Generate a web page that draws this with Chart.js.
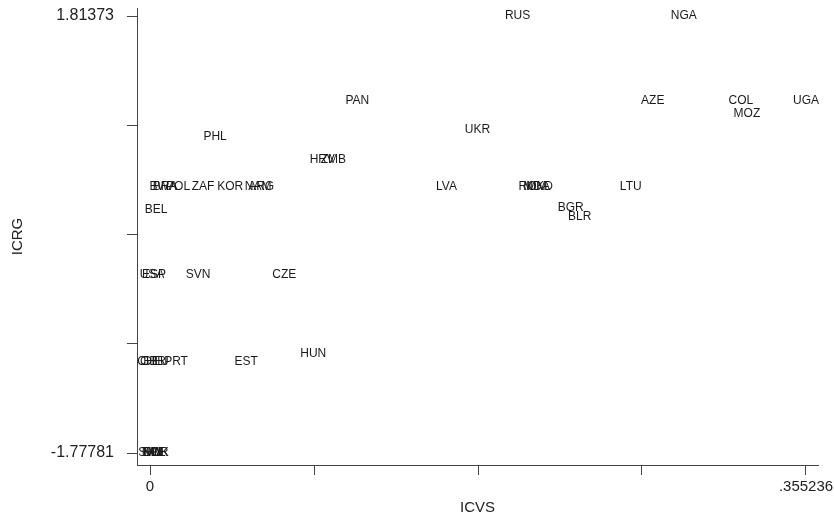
<!DOCTYPE html>
<html>
<head>
<meta charset="utf-8">
<script src="https://cdn.jsdelivr.net/npm/chart.js@4"></script>
<style>
html,body{margin:0;padding:0;background:#fff;}
#wrap{width:834px;height:522px;}
</style>
</head>
<body>
<div id="wrap"><canvas id="c" width="834" height="522"></canvas></div>
<script>
// Country codes (labels drawn at each point)
const countries = [
  "RUS","NGA","PAN","AZE","COL","UGA","MOZ","UKR","PHL","HRV","ZMB",
  "BWA","BRA","POL","ZAF","KOR","NAM","ARG","LVA","ROM","MDA","MKD","LTU",
  "BEL","BGR","BLR",
  "USA","ESP","SVN","CZE",
  "CHE","GBR","DEU","PRT","EST","HUN",
  "SWE","NOR","NZL","DNK","FIN"
];
// ICVS (x) values
const icvs = [
  0.19904,0.28907,0.11227,0.27226,0.31999,0.355236,0.32324,0.17735,0.03525,0.09328,0.09925,
  0.00705,0.00814,0.01519,0.02874,0.04339,0.05857,0.06020,0.16054,0.20718,0.20935,0.21097,0.26033,
  0.00325,0.22779,0.23267,
  0.00108,0.00217,0.02603,0.07267,
  0.00000,0.00163,0.00325,0.01410,0.05207,0.08840,
  0.00108,0.00271,0.00217,0.00325,0.00163
];
// ICRG (y) values
const icrg = [
  1.81373,1.81373,1.1152,1.1152,1.1152,1.1152,1.0083,0.8768,0.8193,0.6303,0.6303,
  0.4084,0.4084,0.4084,0.4084,0.4084,0.4084,0.4084,0.4084,0.4084,0.4084,0.4084,0.4084,
  0.2193,0.2358,0.1618,
  -0.3149,-0.3149,-0.3149,-0.3149,
  -1.0299,-1.0299,-1.0299,-1.0299,-1.0299,-0.9642,
  -1.77781,-1.77781,-1.77781,-1.77781,-1.77781
];
const xTicks = [0, 0.088809, 0.177618, 0.266427, 0.355236];
const xTickLabels = ["0", "", "", "", ".355236"];
const yTicks = [-1.77781, -0.880925, 0.01796, 0.916845, 1.81373];
const yTickLabels = ["-1.77781", "", "", "", "1.81373"];

const points = icvs.map((x, i) => ({x: x, y: icrg[i]}));

const labelPlugin = {
  id: 'mlabels',
  afterDatasetsDraw(chart) {
    const ctx = chart.ctx;
    const meta = chart.getDatasetMeta(0);
    ctx.save();
    ctx.font = '12px "Liberation Sans", Arial, sans-serif';
    ctx.fillStyle = '#1a1a1a';
    ctx.textAlign = 'center';
    ctx.textBaseline = 'middle';
    meta.data.forEach((el, i) => {
      ctx.fillText(countries[i], el.x, el.y);
    });
    ctx.restore();
  }
};

const font = {family: '"Liberation Sans", Arial, sans-serif', size: 15};
const tickFont = {family: '"Liberation Sans", Arial, sans-serif', size: 16};

new Chart(document.getElementById('c'), {
  type: 'scatter',
  data: { datasets: [{ data: points, pointRadius: 0, pointHoverRadius: 0, showLine: false }] },
  options: {
    responsive: false,
    animation: false,
    events: [],
    layout: { padding: { top: 8, right: 16, left: 0, bottom: 0 } },
    plugins: { legend: { display: false }, tooltip: { enabled: false } },
    scales: {
      x: {
        type: 'linear',
        min: -0.00705, max: 0.36174,
        afterBuildTicks: s => { s.ticks = xTicks.map(v => ({value: v})); },
        afterFit: s => { s.height = 57; s.paddingLeft = 0; s.paddingRight = 0; },
        ticks: {
          autoSkip: false, maxRotation: 0, padding: 3, color: '#222', font: font,
          callback: (v, i) => xTickLabels[i]
        },
        grid: { drawOnChartArea: false, drawTicks: true, tickLength: 10, color: '#444', lineWidth: 1 },
        border: { display: true, color: '#444', width: 1 },
        title: { display: true, text: 'ICVS', color: '#222', font: font, padding: { top: 0, bottom: 5 } }
      },
      y: {
        type: 'linear',
        min: -1.8764, max: 1.8795,
        afterBuildTicks: s => { s.ticks = yTicks.map(v => ({value: v})); },
        afterFit: s => { s.width = 137; s.paddingTop = 0; s.paddingBottom = 0; },
        ticks: {
          autoSkip: false, padding: 13, color: '#222', font: tickFont,
          callback: (v, i) => yTickLabels[i]
        },
        grid: { drawOnChartArea: false, drawTicks: true, tickLength: 10, color: '#444', lineWidth: 1 },
        border: { display: true, color: '#444', width: 1 },
        title: { display: true, text: 'ICRG', color: '#222', font: font, padding: { top: 9, bottom: 0 } }
      }
    }
  },
  plugins: [labelPlugin]
});
</script>
</body>
</html>
